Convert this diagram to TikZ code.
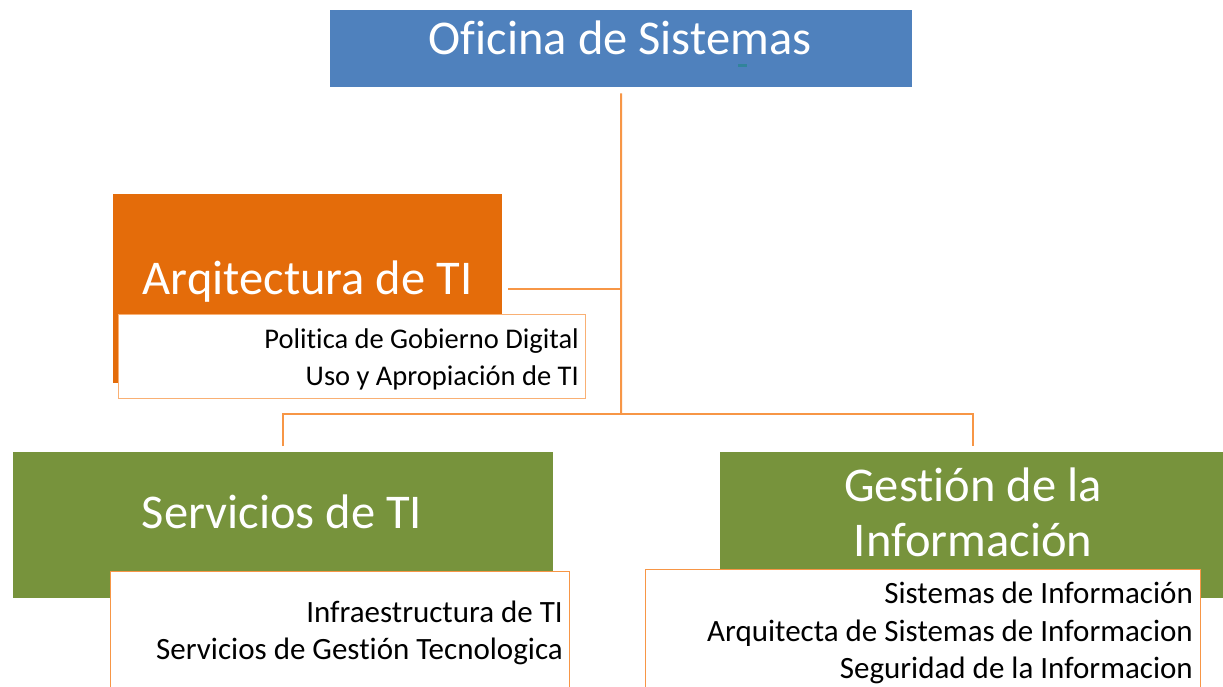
\documentclass[tikz,border=0pt]{standalone}
\usepackage{fontspec}
\setmainfont{Carlito}[RawFeature={-liga,-clig,-dlig,-calt}]
\newcommand{\nlg}{\kern0pt{}}
\definecolor{cblue}{HTML}{4F81BD}
\definecolor{corange}{HTML}{E46C0A}
\definecolor{cgreen}{HTML}{77933C}
\definecolor{cline}{HTML}{F79646}
\definecolor{cteal}{HTML}{31849B}
\tikzset{
  fillbox/.style={rectangle, draw=none, inner sep=0pt, anchor=north west},
  subbox/.style={rectangle, fill=white, draw=cline, line width=1.3pt, inner sep=0pt, anchor=north west},
  bigtext/.style={text=white, inner sep=0pt, font=\fontsize{48.5}{54}\selectfont},
  smalltext/.style={text=black, inner sep=0pt, anchor=base east, font=\fontsize{28.5}{32}\selectfont},
  smalltextb/.style={text=black, inner sep=0pt, anchor=base east, font=\fontsize{31}{34}\selectfont},
  conn/.style={draw=cline, line width=2pt}
}
\begin{document}
\begin{tikzpicture}[x=1pt,y=-1pt]
\useasboundingbox (0,0) rectangle (1223,686);
\clip (0,0) rectangle (1223,686);
\fill[white] (0,0) rectangle (1223,686);
% top box
\node[fillbox, fill=cblue, minimum width=582pt, minimum height=77pt] (ofi) at (330,10) {};
\node[bigtext, anchor=base] (ofit) at (620,54) {Of\nlg icina de Sistemas};
\fill[cteal] (738,64) rectangle (747,67);
% Arqitectura
\node[fillbox, fill=corange, minimum width=389pt, minimum height=189pt] (arq) at (113,194) {};
\node[bigtext, anchor=base] (arqt) at (307.5,294) {Arqitectura de TI};
\node[subbox, draw=cline!75, minimum width=467pt, minimum height=84pt] (arqs) at (118,314) {};
\node[smalltext] (a1) at (579,348) {Polit\nlg ica de Gobierno Digital};
\node[smalltext] (a2) at (579,385) {Uso y Apropiación de TI};
% Servicios
\node[fillbox, fill=cgreen, minimum width=540pt, minimum height=146pt] (serv) at (13,452) {};
\node[bigtext, anchor=base] (servt) at (282,528) {Servicios de TI};
\node[subbox, minimum width=459pt, minimum height=140pt] (servs) at (110,571) {};
\node[smalltextb] (s1) at (563,622) {Infraestructura de TI};
\node[smalltextb] (s2) at (563,659) {Servicios de Gest\nlg ión Tecnologica};
% Gestion
\node[fillbox, fill=cgreen, minimum width=506pt, minimum height=146pt] (gest) at (720,452) {};
\node[bigtext, anchor=base] (gt1) at (973,501) {Gest\nlg ión de la};
\node[bigtext, anchor=base] (gt2) at (973,556) {Información};
\node[subbox, minimum width=555pt, minimum height=140pt] (gests) at (645,569) {};
\node[smalltextb] (g1) at (1193,603) {Sistemas de Información};
\node[smalltextb] (g2) at (1193,641) {Arquitecta de Sistemas de Informacion};
\node[smalltextb] (g3) at (1193,678) {Seguridad de la Informacion};
% connectors
\coordinate (j2) at (621,414);
\coordinate (j1) at (621,289);
\draw[conn] ([yshift=-6pt]ofi.south) -- (j2);
\draw[conn] ([xshift=6pt]arq.east |- j1) -- (j1);
\draw[conn] ([yshift=6pt]serv.north) |- (j2) -| ([yshift=6pt]gest.north);
\end{tikzpicture}
\end{document}
